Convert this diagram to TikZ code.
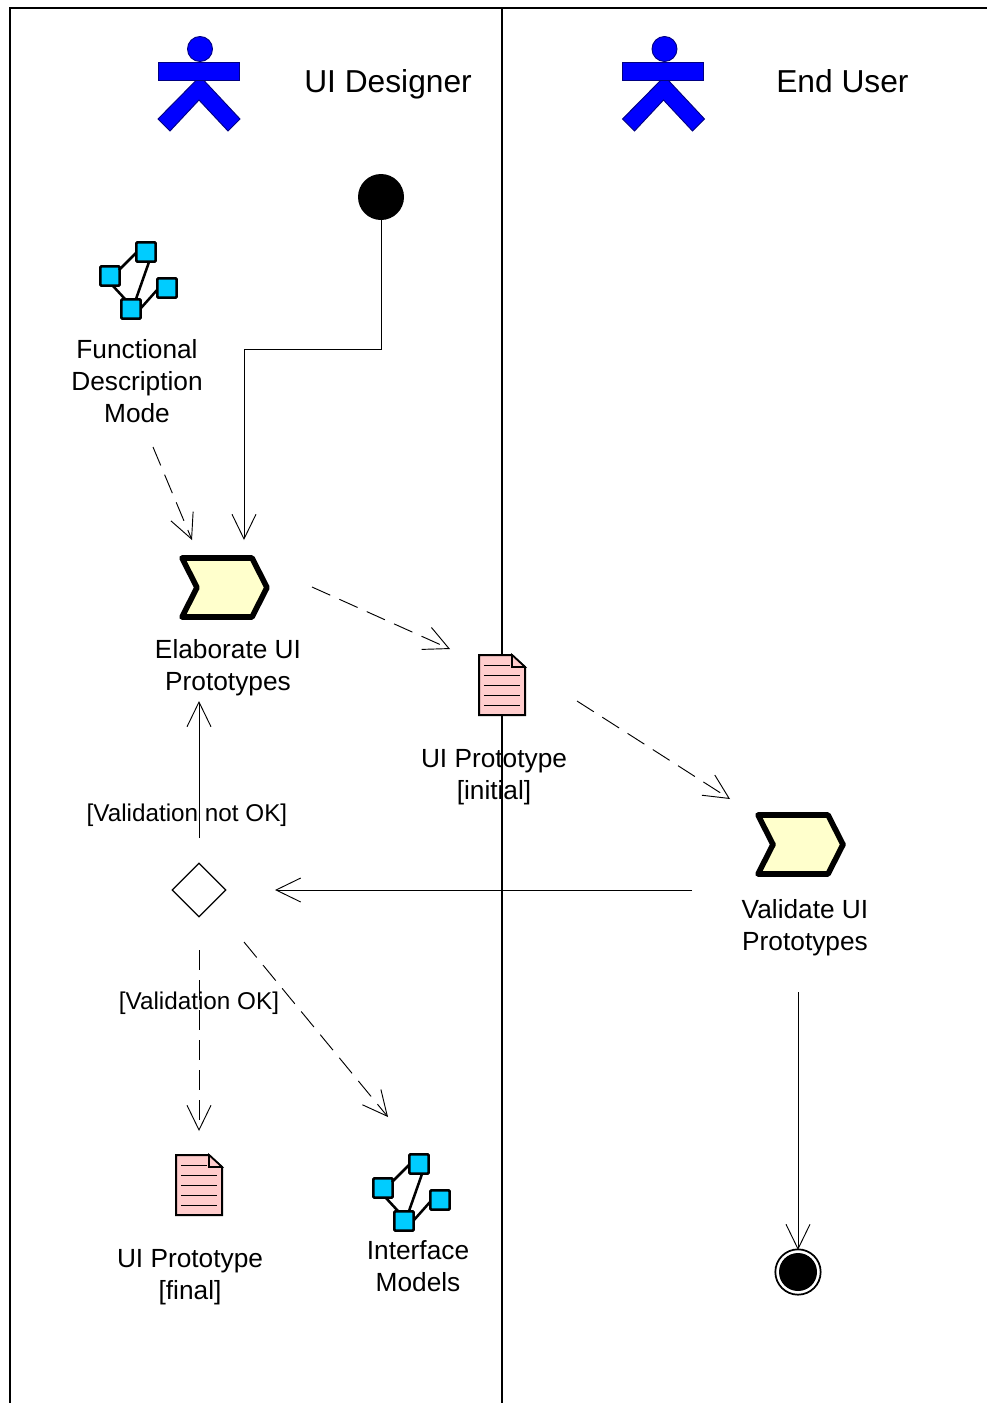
\documentclass[tikz,border=0pt]{standalone}
\usepackage{fontspec}
\setmainfont{Liberation Sans}
\usetikzlibrary{arrows.meta,shapes.geometric}
\definecolor{actorblue}{RGB}{0,0,255}
\definecolor{actorline}{RGB}{0,0,130}
\definecolor{modelcyan}{RGB}{0,204,255}
\definecolor{activityfill}{RGB}{255,255,204}
\definecolor{docfill}{RGB}{255,204,204}
\tikzset{
  lane/.style={line width=1.5pt,black},
  labeltext/.style={inner sep=0pt,align=center,font=\fontsize{19.7}{24}\selectfont},
  guardtext/.style={inner sep=0pt,align=center,font=\fontsize{18.2}{20}\selectfont},
  actortext/.style={inner sep=0pt,anchor=west,font=\fontsize{23.8}{28}\selectfont},
  flow/.style={line width=.7pt,-{Straight Barb[length=18.5pt,width=18pt,line width=.7pt]}},
  flowdash/.style={flow,dash pattern=on 15pt off 7.5pt},
  modelsq/.style={draw=black,fill=modelcyan,line width=1.9pt,minimum size=14.5pt,inner sep=0pt,rounded corners=.8pt,rectangle},
  modelln/.style={line width=1.9pt},
  actor/.pic={
    \fill[actorblue,draw=actorline,line width=.7pt] (0,-31) circle (12.5);
    \fill[actorblue,draw=actorline,line width=.7pt] (-3.5,0) -- (-42,39) -- (-30,51) -- (-1,20) -- (28,51) -- (40,39) -- (3.5,0) -- cycle;
    \fill[actorblue,draw=actorline,line width=.7pt] (-42,-18) rectangle (39,0);
  },
  activity/.pic={
    \draw[line width=4.2pt,line join=round,fill=activityfill] (-42,-29.5) -- (28,-29.5) -- (43,0) -- (28,29.5) -- (-42,29.5) -- (-27,0) -- cycle;
  },
  document/.pic={
    \draw[line width=1.5pt,fill=docfill,line join=miter] (-23,-30) -- (10,-30) -- (23,-18) -- (23,30) -- (-23,30) -- cycle;
    \draw[line width=1.2pt,fill=docfill] (10,-30) -- (10,-18) -- (23,-18) -- cycle;
    \draw[line width=.7pt] (-18,-20) -- (8,-20) (-18,-10) -- (18,-10) (-18,0) -- (18,0) (-18,10) -- (18,10) (-18,20) -- (18,20);
  },
  model/.pic={
    \node[modelsq] (ma) at (9,-33) {};
    \node[modelsq] (mb) at (-27,-9) {};
    \node[modelsq] (mc) at (30,3) {};
    \node[modelsq] (md) at (-6,24) {};
    \draw[modelln] ([shift={(-10,1)}]ma.center) -- ([shift={(9,-6)}]mb.center);
    \draw[modelln] ([shift={(3,10)}]ma.center) -- ([shift={(5,-10)}]md.center);
    \draw[modelln] ([shift={(3,10)}]mb.center) -- ([shift={(-6,-10)}]md.center);
    \draw[modelln] ([shift={(10,-1)}]md.center) -- ([shift={(-10,2)}]mc.center);
  }
}
\begin{document}
\begin{tikzpicture}[x=.75pt,y=-.75pt]
\useasboundingbox (0,0) rectangle (987,1403);
% swimlanes
\coordinate (laneTL) at (10,8);
\coordinate (laneBL) at (10,1403);
\coordinate (laneTM) at (502,8);
\coordinate (laneBM) at (502,1403);
\coordinate (laneTR) at (987,8);
\draw[lane,line width=1.2pt] (laneBL) -- (laneTL) -- (laneTR);
\draw[lane] (laneTM) -- (laneBM);
% actors
\pic at (200,80) {actor};
\pic at (664.5,80) {actor};
\node[actortext] (designer) at (304,84) {UI Designer};
\node[actortext] (enduser) at (776,81) {End User};
% start and end
\node[circle,fill=black,minimum size=34.5pt,inner sep=0pt] (start) at (381,197) {};
\node[circle,draw=black,line width=1.3pt,fill=white,minimum size=34pt,inner sep=0pt] (final) at (798,1272) {};
\node[circle,fill=black,minimum size=28.5pt,inner sep=0pt] (finaldot) at (798,1272) {};
% icons
\pic at (137,285) {model};
\pic at (410,1197) {model};
\pic at (224,587.5) {activity};
\pic at (800,844.5) {activity};
\pic at (502,685) {document};
\pic at (199,1185) {document};
\node[diamond,draw=black,line width=1pt,fill=white,minimum width=40.5pt,minimum height=40.5pt,inner sep=0pt] (decision) at (199,890) {};
% connector ends
\coordinate (elbowA) at (381,349);
\coordinate (elbowB) at (244,349);
\coordinate (elabInStart) at (244,540);
\coordinate (fdmOut) at (153,447);
\coordinate (elabInModel) at (192,540);
\coordinate (elabOut) at (312,587);
\coordinate (protoIn) at (450,649);
\coordinate (protoOut) at (577,701);
\coordinate (validIn) at (730,799);
\coordinate (validOut) at (692,890);
\coordinate (decIn) at (275,890);
\coordinate (decOutUp) at (199,838);
\coordinate (elabInBack) at (199,701);
\coordinate (decOutDown) at (199,950);
\coordinate (finalIn) at (199,1131);
\coordinate (decOutRight) at (244,942);
\coordinate (modelsIn) at (388,1117);
\coordinate (validDown) at (798,992);
\coordinate (endIn) at (798,1250);
% connectors
\draw[flow] (start.south) -- (elbowA) -- (elbowB) -- (elabInStart);
\draw[flowdash] (fdmOut) -- (elabInModel);
\draw[flowdash] (elabOut) -- (protoIn);
\draw[flowdash] (protoOut) -- (validIn);
\draw[flow] (validOut) -- (decIn);
\draw[flow] (decOutUp) -- (elabInBack);
\draw[flowdash] (decOutDown) -- (finalIn);
\draw[flowdash] (decOutRight) -- (modelsIn);
\draw[flow] (validDown) -- (endIn);
% labels
\node[labeltext] (fdmlabel) at (137,381) {Functional\\Description\\Mode};
\node[labeltext] (elablabel) at (228,668) {Elaborate UI\\Prototypes};
\node[labeltext] (protolabel) at (494,777) {UI Prototype\\{[initial]}};
\node[labeltext] (validlabel) at (805,928) {Validate UI\\Prototypes};
\node[guardtext] (notok) at (187,815) {[Validation not OK]};
\node[guardtext] (ok) at (199,1003) {[Validation OK]};
\node[labeltext] (finallabel) at (190,1277) {UI Prototype\\{[final]}};
\node[labeltext] (modelslabel) at (418,1266) {Interface\\Models};
\end{tikzpicture}
\end{document}
